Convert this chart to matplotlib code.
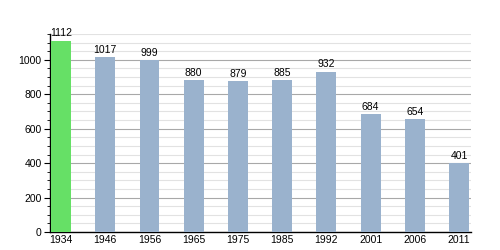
import matplotlib
matplotlib.use("Agg")
import matplotlib.pyplot as plt
from matplotlib.ticker import MultipleLocator

years = ["1934", "1946", "1956", "1965", "1975", "1985", "1992", "2001", "2006", "2011"]
population = [1112, 1017, 999, 880, 879, 885, 932, 684, 654, 401]

GREEN, BLUE = "#66e066", "#9ab2cd"
colors = [GREEN] + [BLUE] * (len(years) - 1)

plt.rcParams["font.family"] = ["Liberation Sans", "DejaVu Sans"]
fig = plt.figure(figsize=(5, 2.5), dpi=100)
ax = fig.add_axes([0.1, 0.072, 0.842, 0.792])

x = range(len(years))
ax.bar(x, population, width=0.45, color=colors, zorder=3)
for xi, v in zip(x, population):
    ax.text(xi, v + 12, str(v), ha="center", va="bottom", fontsize=7.5, zorder=4)

ax.set_xlim(-0.25, 9.27)
ax.set_ylim(0, 1150)
ax.yaxis.set_major_locator(MultipleLocator(200))
ax.yaxis.set_minor_locator(MultipleLocator(50))
ax.grid(axis="y", which="major", color="#a8a8a8", lw=0.8, zorder=1)
ax.grid(axis="y", which="minor", color="#e2e2e2", lw=0.8, zorder=1)
ax.set_xticks(list(x))
ax.set_xticklabels(years)
ax.tick_params(axis="x", length=0, labelsize=7.5, pad=2)
ax.tick_params(axis="y", which="major", length=4, labelsize=7.5, pad=2)
ax.tick_params(axis="y", which="minor", length=2)
for s in ("top", "right"):
    ax.spines[s].set_visible(False)
ax.spines["left"].set_linewidth(1)
ax.spines["bottom"].set_linewidth(1)

fig.savefig("out.png", dpi=100)
